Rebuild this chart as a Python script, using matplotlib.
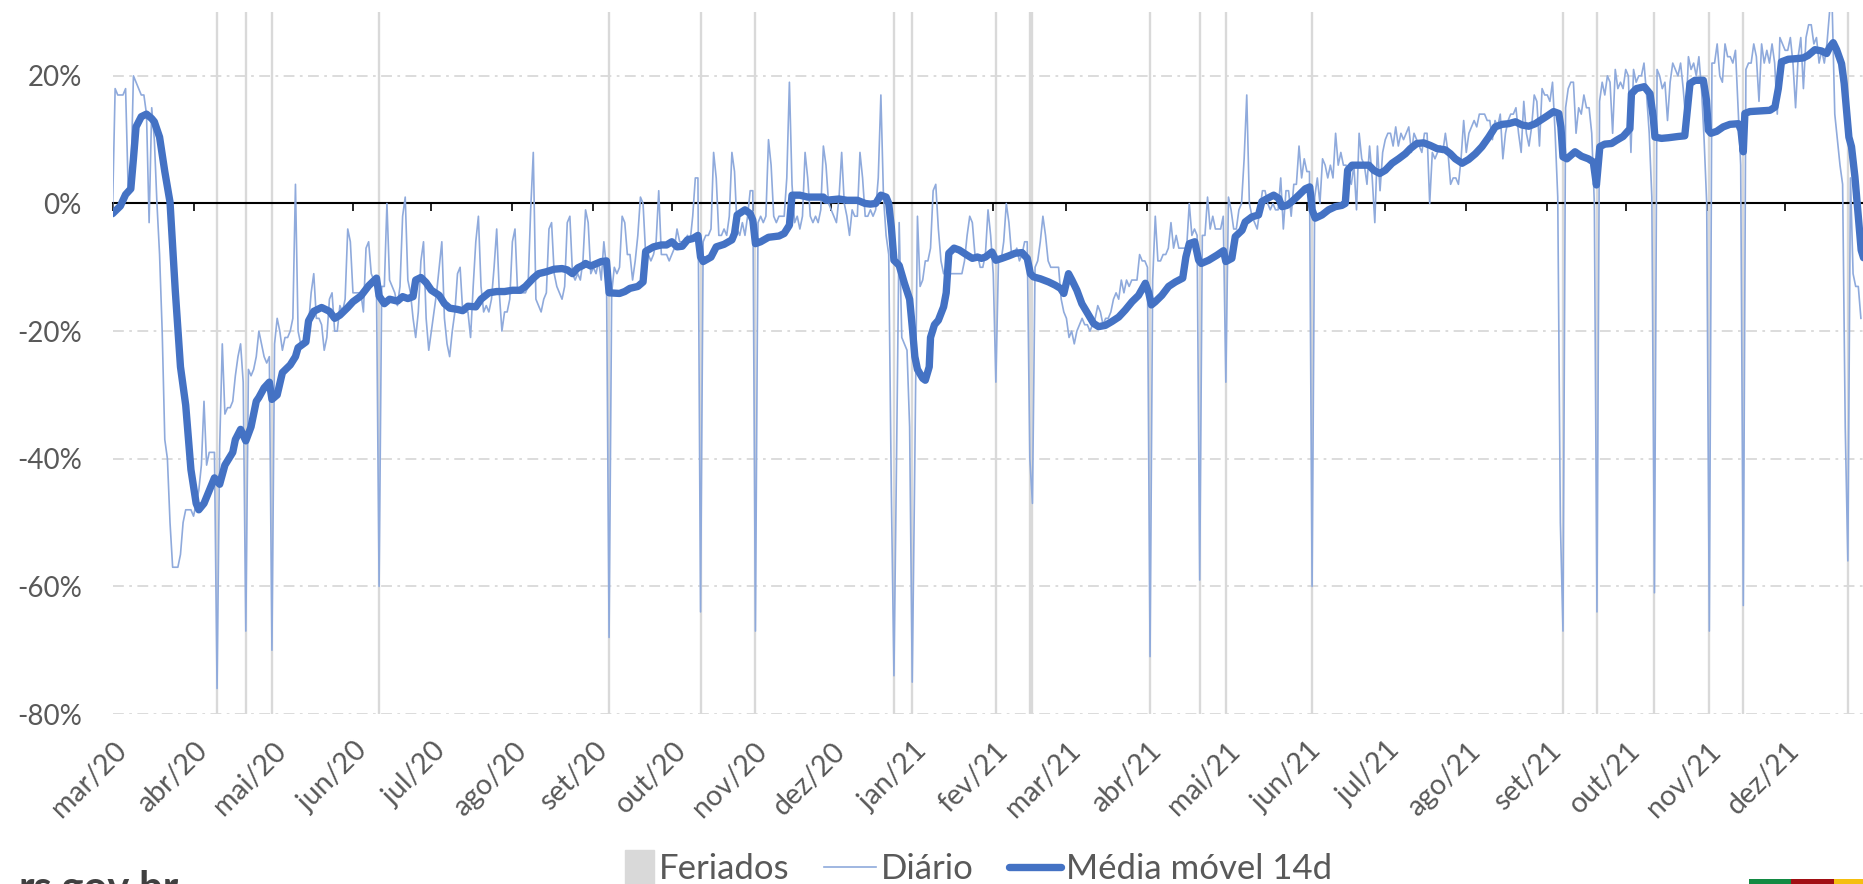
import matplotlib
matplotlib.use("Agg")
import matplotlib.pyplot as plt
import matplotlib.patches as mpatches
import matplotlib.transforms as mtransforms
import matplotlib.dates as mdates
from matplotlib.legend_handler import HandlerPatch
from matplotlib.lines import Line2D
import numpy as np
import pandas as pd


COLORS = {
    "diario": "#8FAADC",
    "media": "#4472C4",
    "feriado": "#D9D9D9",
    "grid": "#D9D9D9",
    "text": "#595959",
}
FLAG = ["#138A43", "#A10F14", "#F5BF0F"]

START = "2020-03-01"

# variacao diaria (%), uma linha por semana (domingo a sabado)
daily = [
    -1, 18, 17, 17, 17, 18, 2,
    3, 20, 19, 18, 17, 17, 14,
    -3, 15, 10, 0, -8, -20, -37,
    -40, -50, -57, -57, -57, -55, -50,
    -48, -48, -48, -49, -47, -45, -41,
    -31, -41, -39, -39, -39, -76, -38,
    -22, -33, -32, -32, -31, -27, -24,
    -22, -28, -67, -26, -27, -26, -24,
    -20, -22, -24, -25, -24, -70, -22,
    -18, -20, -23, -21, -21, -20, -18,
    3, -20, -22, -22, -21, -19, -14,
    -11, -18, -18, -19, -23, -21, -15,
    -14, -20, -20, -16, -17, -15, -4,
    -6, -14, -14, -14, -14, -17, -7,
    -6, -11, -12, -13, -60, -13, -13,
    0, -12, -13, -14, -16, -13, -2,
    1, -12, -14, -18, -21, -17, -9,
    -6, -18, -23, -20, -17, -14, -10,
    -6, -18, -22, -24, -20, -17, -11,
    -10, -17, -17, -17, -21, -13, -6,
    -2, -13, -17, -16, -17, -15, -10,
    -4, -14, -20, -17, -17, -15, -6,
    -4, -14, -14, -14, -14, -13, -1,
    8, -15, -16, -17, -15, -14, -4,
    -3, -11, -13, -14, -15, -13, -3,
    -2, -11, -12, -11, -12, -9, -1,
    -3, -11, -10, -11, -9, -12, -6,
    -10, -68, -14, -10, -11, -10, -2,
    -3, -8, -8, -12, -9, -5, 1,
    0, -8, -8, -9, -8, -6, 2,
    -8, -8, -8, -9, -8, -7, -4,
    -6, -6, -6, -5, -6, -2, 4,
    4, -64, -6, -5, -5, -4, 8,
    4, -5, -5, -4, -5, -2, 8,
    5, -4, -5, -3, -5, -2, 2,
    2, -67, -3, -2, -3, -2, 10,
    6, -2, -3, -2, -2, -2, 4,
    19, 3, -3, -2, -4, -2, 8,
    4, -2, -3, -2, -3, -1, 9,
    6, 0, -1, -2, -3, 1, 8,
    0, -2, -5, -1, -2, -2, 8,
    4, -2, -2, -1, -2, -1, 4,
    17, 1, -5, -8, -45, -74, -40,
    -3, -21, -22, -23, -35, -75, -40,
    -2, -13, -12, -9, -9, -7, 2,
    3, -4, -9, -11, -11, -11, -11,
    -11, -11, -11, -11, -9, -5, -2,
    -3, -8, -8, -10, -10, -8, -1,
    -5, -11, -28, -9, -9, -6, 0,
    -3, -8, -8, -7, -9, -8, -6,
    -6, -40, -47, -10, -9, -6, -2,
    -5, -9, -10, -10, -10, -10, -15,
    -17, -18, -21, -20, -22, -20, -19,
    -18, -19, -19, -20, -19, -18, -16,
    -17, -19, -18, -18, -17, -15, -14,
    -15, -12, -14, -12, -13, -12, -12,
    -12, -8, -9, -9, -10, -71, -12,
    -2, -9, -9, -8, -8, -7, -3,
    -7, -5, -7, -7, -7, -7, 0,
    -5, -4, -5, -59, -5, -5, 1,
    -4, -2, -4, -4, -4, -2, -28,
    1, -1, -4, -4, -1, 0, 7,
    17, 0, -2, -3, -4, -1, 2,
    2, 0, -1, 0, -1, -1, 4,
    -4, 2, 2, -2, 3, 3, 9,
    4, 7, 5, 5, -60, 1, 4,
    0, 7, 6, 4, 6, 4, 11,
    6, 8, 6, 6, 4, 3, 6,
    -1, 11, 7, 6, 3, 9, 4,
    -3, 9, 2, 8, 10, 11, 11,
    9, 12, 9, 11, 10, 11, 12,
    8, 11, 10, 9, 8, 11, 11,
    0, 8, 7, 8, 9, 8, 11,
    8, 3, 4, 4, 3, 7, 13,
    8, 11, 12, 13, 12, 14, 14,
    14, 13, 13, 10, 13, 12, 14,
    7, 11, 13, 14, 14, 15, 11,
    8, 16, 11, 9, 12, 17, 16,
    9, 18, 17, 17, 16, 19, 11,
    1, -50, -67, 15, 18, 19, 19,
    11, 15, 14, 17, 15, 15, 11,
    0, -64, 16, 19, 17, 20, 19,
    11, 21, 18, 19, 18, 21, 20,
    8, 21, 19, 20, 20, 22, 17,
    11, 1, -61, 21, 20, 18, 19,
    13, 19, 22, 21, 20, 22, 18,
    13, 23, 21, 22, 20, 23, 18,
    10, 0, -67, 22, 22, 25, 20,
    19, 25, 23, 23, 22, 24, 15,
    6, -63, 21, 22, 22, 25, 23,
    16, 25, 22, 24, 22, 25, 22,
    14, 26, 25, 24, 24, 26, 22,
    15, 23, 26, 18, 26, 28, 28,
    25, 26, 22, 24, 22, 25, 30,
    31, 14, 10, 6, 3, -35, -56,
    4, -11, -13, -13, -18,
]

# media movel 14d: dia (desde 01/03/2020) e valor (%)
ma_day = [
    0, 3, 5, 7, 8, 9, 11, 13, 15, 16, 18, 20, 22, 24, 26, 28, 30, 32, 33, 35,
    37, 39, 40, 41, 43, 46, 47, 49, 51, 53, 55, 56, 58, 60, 61, 63, 65, 68, 70, 71,
    74, 75, 77, 80, 83, 85, 87, 90, 92, 95, 98, 101, 102, 104, 106, 109, 111, 113, 115, 116,
    118, 120, 122, 125, 127, 129, 132, 134, 136, 139, 141, 144, 147, 150, 153, 156, 158, 161, 163, 166,
    169, 172, 174, 176, 178, 180, 181, 183, 187, 189, 190, 194, 196, 198, 201, 203, 204, 207, 210, 212,
    214, 216, 218, 220, 222, 224, 225, 226, 229, 231, 234, 237, 238, 239, 242, 244, 245, 246, 248, 251,
    255, 257, 259, 260, 263, 266, 269, 272, 273, 278, 281, 285, 288, 290, 292, 294, 296, 297, 298, 299,
    301, 303, 305, 306, 307, 308, 310, 311, 312.5, 313, 314.5, 316, 318, 319, 319.5, 320, 322, 324, 327, 329,
    331, 332.5, 334, 336.5, 338, 340.3, 343, 345.4, 348, 350, 351.2, 352.4, 355, 358.2, 360.7, 362.7, 364, 365.8, 367.1, 369,
    370.9, 373.5, 375.4, 377.3, 379.9, 382.4, 385, 387.5, 390.1, 392.6, 395.2, 396.5, 397.5, 399, 401.5, 404.1, 406.7, 409.5, 410.7, 412,
    414.1, 415.6, 416.6, 419.4, 422.6, 425.1, 426, 428.3, 429.6, 432.2, 433.4, 436, 438.5, 439.8, 442.4, 444.3, 446.2, 447.5, 449.4, 451.3,
    453.9, 456.4, 458.1, 459, 460.2, 462.8, 465.3, 467.9, 470.4, 471.7, 472.6, 474.3, 477.5, 480.7, 482.6, 484.9, 487, 489.6, 492.1, 494.7,
    496.6, 499.1, 501.7, 504.2, 506.8, 510, 511.9, 513.8, 516.4, 518.9, 521.5, 524, 526.6, 529.1, 531.7, 534.2, 536.8, 539.3, 541.9, 544.4,
    546.3, 548.9, 551.4, 553.4, 554.2, 555, 556.5, 559.6, 562.1, 564.7, 566.6, 567.8, 569.1, 571, 573.6, 575.5, 578, 580.6, 581.2, 583.1,
    586.1, 588.3, 589.5, 590.2, 592.7, 595.3, 599.1, 601.6, 603.6, 605.5, 608.7, 609.9, 610.6, 611.6, 613.8, 616.3, 618.9, 622.1, 623.1, 624,
    624.6, 626.5, 630.3, 634.2, 636.1, 637.4, 638.6, 641.2, 644.4, 646.9, 648.8, 651.4, 653.9, 655.9, 657.1, 658.4, 659.7, 661.6, 662.6, 663.5,
    664.4, 665.4, 666.7, 668, 669.1, 670,
]
ma_val = [
    -1.6, -0.4, 1.4, 2.3, 7, 12, 13.6, 14, 13.3, 12.8, 10.4, 5, 0.2, -13.6, -25.6, -31.6, -41.7, -47, -48, -47,
    -45, -43, -43.5, -44, -41, -39, -37, -35.4, -37.2, -35, -31, -30.4, -28.9, -28, -30.7, -30, -26.5, -25.3, -24, -22.6,
    -21.7, -18.4, -16.9, -16.3, -16.9, -18, -17.5, -16.3, -15.4, -14.5, -12.9, -11.7, -14.5, -15.7, -15, -15.3, -14.6, -14.9, -14.6, -12,
    -11.6, -12.4, -13.6, -14.4, -15.7, -16.4, -16.6, -16.8, -16.1, -16.2, -15, -14, -13.8, -13.8, -13.6, -13.6, -13, -11.7, -11, -10.7,
    -10.3, -10.2, -10.4, -11, -10.1, -9.7, -9.4, -9.8, -9.1, -9, -14, -14.1, -13.8, -13.3, -13, -12.3, -7.5, -6.8, -6.5, -6.5,
    -6, -6.8, -6.7, -5.7, -5.5, -5, -8.4, -9.1, -8.4, -6.8, -6.4, -5.7, -4.7, -1.8, -1, -1.6, -2.6, -6.3, -6, -5.3,
    -5.1, -4.7, -3.4, 1.3, 1.3, 1, 1, 1, 0.5, 0.7, 0.5, 0.5, 0, -0.1, 0, 1.3, 1, 0, -3.7, -8.9,
    -9.7, -12.5, -15, -19.3, -24, -26, -27.4, -27.7, -25.6, -21, -19, -18.3, -16.2, -14, -11, -7.8, -7, -7.3, -8.1, -8.6,
    -8.4, -8.6, -8.4, -7.6, -8.9, -8.6, -8.2, -7.8, -7.7, -8.6, -11, -11.5, -11.8, -12.3, -12.8, -13.3, -14.1, -11, -12, -13.6,
    -15.7, -17.5, -18.8, -19.3, -19.1, -18.5, -17.8, -16.7, -15.4, -14.4, -12.5, -14, -15.9, -15.4, -14.4, -13, -12.3, -11.7, -8.4, -6.3,
    -6, -8.9, -9.4, -8.9, -8.1, -7.4, -9.1, -8.6, -5.2, -4.2, -2.9, -2.1, -1.8, 0.3, 0.9, 1.3, 0.8, -0.5, -0.3, 0.3,
    1.3, 2.3, 2.6, -1, -2.3, -1.8, -1, -0.5, -0.3, 0, 5.2, 6, 6, 6, 5.2, 4.7, 5.2, 6.3, 7, 7.8,
    8.6, 9.4, 9.5, 9.1, 8.6, 8.4, 7.8, 7, 6.3, 6.9, 7.8, 8.9, 10.4, 12, 12.4, 12.5, 12.8, 12.3, 12.1, 12.5,
    13, 13.7, 14.4, 14.1, 12, 7.3, 7, 8.1, 7.4, 7, 6.5, 2.9, 8.9, 9.3, 9.4, 9.9, 10.5, 11.7, 17.2, 18,
    18.3, 17.2, 13.6, 10.4, 10.2, 10.3, 10.5, 10.6, 18.8, 19.3, 19.3, 16.2, 11.5, 11, 11.3, 12, 12.4, 12.5, 11.5, 8.1,
    14.1, 14.4, 14.5, 14.6, 15.1, 18, 22.2, 22.6, 22.7, 22.8, 23.2, 24.1, 23.9, 23.5, 24.5, 25.2, 24.1, 21.9, 18.8, 14.6,
    10.4, 8.9, 4.2, -2.1, -7.3, -8.5,
]

holidays = [
    "2020-04-10", "2020-04-21", "2020-05-01", "2020-06-11", "2020-09-07",
    "2020-10-12", "2020-11-02", "2020-12-25", "2021-01-01", "2021-02-02",
    "2021-02-15", "2021-02-16", "2021-04-02", "2021-04-21", "2021-05-01",
    "2021-06-03", "2021-09-07", "2021-09-20", "2021-10-12", "2021-11-02",
    "2021-11-15", "2021-12-25",
]

month_labels = [
    "mar/20", "abr/20", "mai/20", "jun/20", "jul/20", "ago/20", "set/20",
    "out/20", "nov/20", "dez/20", "jan/21", "fev/21", "mar/21", "abr/21",
    "mai/21", "jun/21", "jul/21", "ago/21", "set/21", "out/21", "nov/21",
    "dez/21",
]
y_ticks = [-80, -60, -40, -20, 0, 20]
legend_labels = ["Feriados", "Diário", "Média móvel 14d"]


def small_box(legend, orig_handle, xdescent, ydescent, width, height, fontsize):
    return mpatches.Rectangle((-xdescent + width * 0.45, -ydescent - height * 0.2),
                              width * 0.55, height * 1.4)


def main():
    plt.rcParams["font.family"] = ["Lato", "DejaVu Sans"]
    plt.rcParams["axes.unicode_minus"] = False

    fig = plt.figure(figsize=(18.63, 8.84), dpi=100)
    ax = fig.add_axes([0.0604, 0.1923, 0.9396, 0.7941])

    start = pd.Timestamp(START)
    days = start + pd.to_timedelta(np.arange(len(daily)), unit="D")
    ma_x = start + pd.to_timedelta(ma_day, unit="D")

    for h in pd.to_datetime(holidays):
        ax.axvline(h, color=COLORS["feriado"], lw=1.7, zorder=1)

    ax.plot(days, daily, color=COLORS["diario"], lw=1.2, zorder=3)
    ax.plot(ma_x, ma_val, color=COLORS["media"], lw=5.3, zorder=4,
            solid_joinstyle="round", solid_capstyle="round")

    ax.set_ylim(-80, 30)
    ax.set_xlim(start, start + pd.Timedelta(days=669.8))
    ax.set_yticks(y_ticks)
    ax.set_yticklabels([f"{v}%" for v in y_ticks])
    ax.tick_params(axis="y", length=0, pad=22, labelsize=20, labelcolor=COLORS["text"])
    ax.yaxis.grid(True, color=COLORS["grid"], lw=1.3, linestyle=(0, (6, 3, 1.5, 3)))
    ax.set_axisbelow(True)

    for s in ["left", "right", "top"]:
        ax.spines[s].set_visible(False)
    ax.spines["bottom"].set_position(("data", 0))
    ax.spines["bottom"].set_color("black")
    ax.spines["bottom"].set_linewidth(1.5)
    ax.spines["bottom"].set_zorder(2)

    month_starts = mdates.date2num(pd.date_range(START, periods=len(month_labels), freq="MS"))
    ax.set_xticks(month_starts)
    ax.tick_params(axis="x", direction="out", length=6, width=1.2, color="black",
                   labelbottom=False)

    secax = ax.secondary_xaxis("bottom")
    secax.set_xticks(month_starts)
    secax.set_xticklabels(month_labels)
    secax.spines["bottom"].set_visible(False)
    secax.tick_params(axis="x", length=0, pad=17, labelsize=20.5, labelcolor=COLORS["text"])
    shift = mtransforms.ScaledTranslation(1 / 100, 0, fig.dpi_scale_trans)
    for lab in secax.get_xticklabels():
        lab.set_rotation(45)
        lab.set_ha("right")
        lab.set_va("top")
        lab.set_rotation_mode("anchor")
        lab.set_transform(lab.get_transform() + shift)

    handles = [
        mpatches.Patch(color=COLORS["feriado"]),
        Line2D([], [], color=COLORS["diario"], lw=1.2),
        Line2D([], [], color=COLORS["media"], lw=5.3, solid_capstyle="round"),
    ]
    fig.legend(handles, legend_labels, loc="center", bbox_to_anchor=(0.519, 0.017),
               ncol=3, frameon=False, fontsize=25, labelcolor=COLORS["text"],
               handlelength=1.5, handletextpad=0.15, columnspacing=1.0,
               handler_map={mpatches.Patch: HandlerPatch(patch_func=small_box)})

    # logo do rodape, cortado pela borda como no original
    fig.text(0.0097, -0.0185, "rs.gov.br", fontsize=30, fontweight="bold",
             color="#404040", va="baseline")
    x0 = 1749
    for c, w in zip(FLAG, [42, 43, 29]):
        fig.add_artist(mpatches.Rectangle((x0 / 1863, 0), w / 1863, 5 / 884,
                                          transform=fig.transFigure, color=c, lw=0))
        x0 += w

    fig.savefig("out.png", dpi=100)


if __name__ == "__main__":
    main()
